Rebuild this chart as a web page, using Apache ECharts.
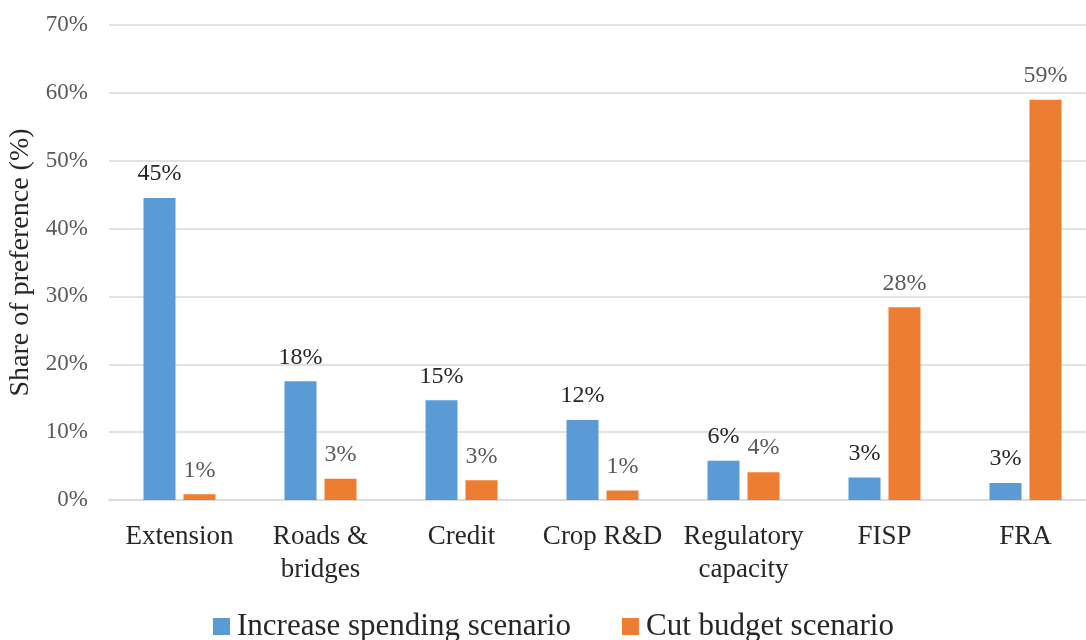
<!DOCTYPE html>
<html>
<head>
<meta charset="utf-8">
<script src="https://cdn.jsdelivr.net/npm/echarts@6/dist/echarts.min.js"></script>
<style>
  html, body { margin: 0; padding: 0; background: #fff; }
  #chart { width: 1086px; height: 640px; }
</style>
</head>
<body>
<div id="chart"></div>
<script>
var categories = ['Extension', 'Roads &\nbridges', 'Credit', 'Crop R&D', 'Regulatory\ncapacity', 'FISP', 'FRA']
var increaseSpending = [44.5, 17.5, 14.7, 11.8, 5.8, 3.3, 2.5]
var cutBudget = [0.85, 3.15, 2.9, 1.4, 4.1, 28.4, 59.0]
var yTicks = [0, 10, 20, 30, 40, 50, 60, 70]

var font = 'Liberation Serif'
var myChart = echarts.init(document.getElementById('chart'))

function pct(p) { return Math.round(p.value) + '%' }

myChart.setOption({
  animation: false,
  textStyle: { fontFamily: font },
  grid: { left: 109, right: -10, top: 25, bottom: 140, outerBoundsMode: 'none' },
  legend: {
    left: 213,
    top: 611,
    padding: 0,
    itemWidth: 17,
    itemHeight: 17,
    itemGap: 51,
    icon: 'rect',
    textStyle: { fontFamily: font, fontSize: 31, color: '#262626', padding: [0, 0, 0, 2] },
    data: ['Increase spending scenario', 'Cut budget scenario']
  },
  xAxis: {
    type: 'category',
    data: categories,
    axisLine: { lineStyle: { color: '#D9D9D9', width: 1.5 } },
    axisTick: { show: false },
    axisLabel: {
      interval: 0,
      margin: 20,
      fontFamily: font,
      fontSize: 27,
      lineHeight: 33,
      color: '#262626'
    }
  },
  yAxis: {
    type: 'value',
    min: yTicks[0],
    max: yTicks[yTicks.length - 1],
    interval: 10,
    name: 'Share of preference (%)',
    nameLocation: 'middle',
    nameGap: 72,
    nameTextStyle: { fontFamily: font, fontSize: 28, color: '#262626' },
    axisLine: { show: false },
    axisTick: { show: false },
    splitLine: { lineStyle: { color: '#D9D9D9', width: 1.5 } },
    axisLabel: {
      formatter: '{value}%',
      margin: 21,
      fontFamily: font,
      fontSize: 23,
      color: '#595959'
    }
  },
  series: [{
    name: 'Increase spending scenario',
    type: 'bar',
    data: increaseSpending,
    barWidth: 32,
    barGap: '25%',
    itemStyle: { color: '#5B9BD5' },
    label: {
      show: true,
      position: 'top',
      distance: 12,
      formatter: pct,
      fontFamily: font,
      fontSize: 24,
      color: '#262626'
    }
  }, {
    name: 'Cut budget scenario',
    type: 'bar',
    data: cutBudget,
    barWidth: 32,
    itemStyle: { color: '#ED7D31' },
    label: {
      show: true,
      position: 'top',
      distance: 12,
      formatter: pct,
      fontFamily: font,
      fontSize: 24,
      color: '#595959'
    }
  }]
})
</script>
</body>
</html>
